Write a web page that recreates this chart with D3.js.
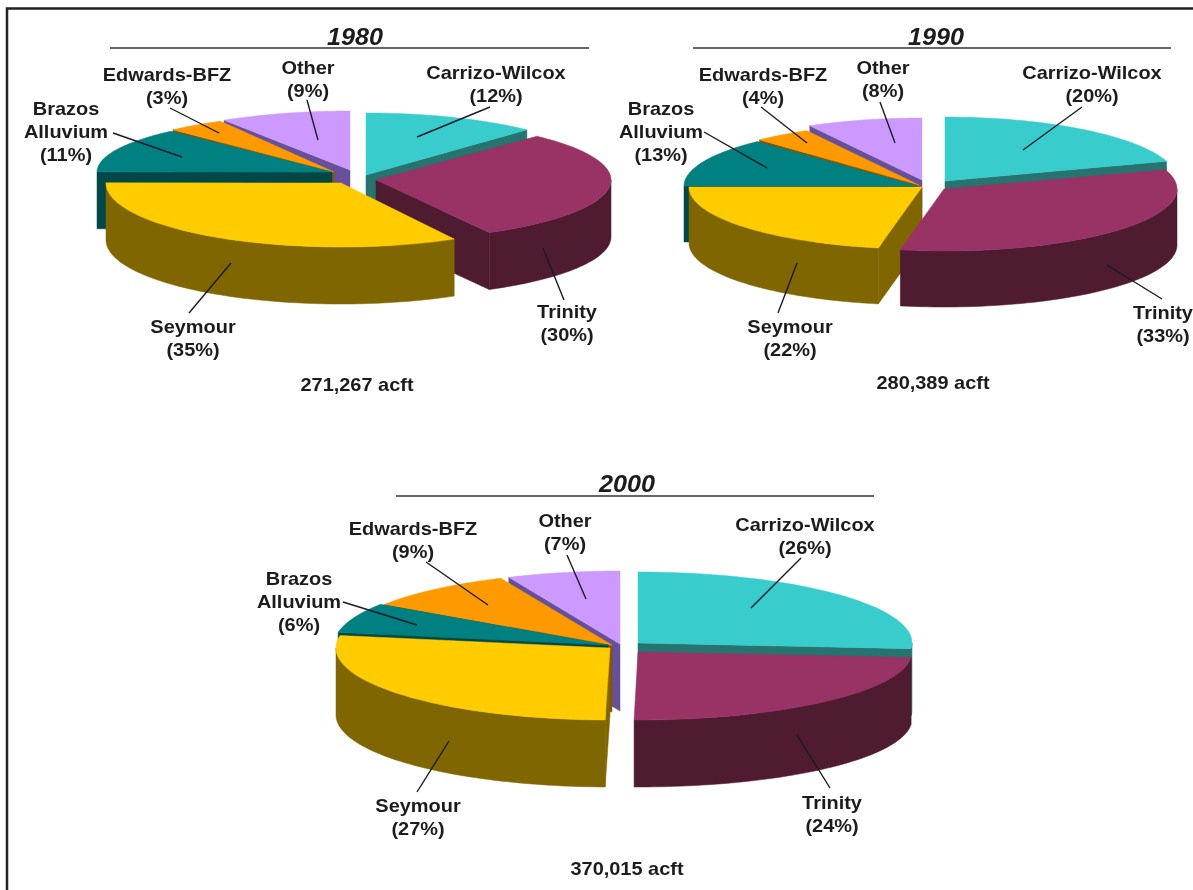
<!DOCTYPE html>
<html><head><meta charset="utf-8">
<script src="https://cdn.jsdelivr.net/npm/d3@7"></script>
<style>html,body{margin:0;padding:0;background:#fff;overflow:hidden}svg{display:block;filter:blur(0.4px)}
text{font-family:"Liberation Sans",Arial,sans-serif;font-weight:700;fill:#1c1c1c;font-size:19px}</style>
</head><body><svg id="c" width="1193" height="890"></svg>
<script>
const categories=["Carrizo-Wilcox","Trinity","Seymour","Brazos Alluvium","Edwards-BFZ","Other"];
const years=["1980","1990","2000"];
const values1980=[12,30,35,11,3,9];
const values1990=[20,33,22,13,4,8];
const values2000=[26,24,27,6,9,7];
const totals=["271,267 acft","280,389 acft","370,015 acft"];
const topColors=["#38CCCC","#993366","#FFCC00","#008080","#FF9900","#CC99FF"];
const sideColors=["#27736F","#4F1B30","#806600","#004848","#8A5200","#665099"];

// layout only: drawing centre of each slice, vertical radius, hand-drawn angle nudges in degrees
const layouts=[
 {values:values1980,rx:235,ry:[62,60,64,56,58,59],depth:57,
  apex:[[366,175],[376,180],[341,183],[332,172],[334,172],[350,170]],
  warp:[[0,0],[0,0],[0,-7],[-7,0],[0,3.5],[0,0]],
  order:[5,4,3,0,1,2],
  title:[355,37],rule:[110,589,48],total:[357,384],
  labels:[[496,72],[567,311],[193,326],[66,108],[167,74],[308,67]],
  leaders:[[490,107,417,137],[543,248,564,300],[231,263,189,313],[113,133,182,157],[170,108,219,133],[307,100,318,140]]},
 {values:values1990,rx:233,ry:[64,62,62,61,62,62],depth:56,
  apex:[[945,181],[944,189],[922,187],[917,186],[919,185],[922,180]],
  warp:[[0,0],[0,0],[0,0],[0,0],[0,0],[0,0]],
  order:[5,4,3,0,2,1],
  title:[936,37],rule:[693,1171,48],total:[933,382],
  labels:[[1092,72],[1163,312],[790,326],[661,108],[763,74],[883,67]],
  leaders:[[1082,107,1023,150],[1107,265,1162,299],[797,263,778,313],[704,132,767,168],[761,107,807,143],[880,102,895,143]]},
 {values:values2000,rx:274,ry:[71,68,72,73,73,73],depth:67,
  apex:[[638,643],[638,652],[610,648],[608,645],[612,645],[620,644]],
  warp:[[0,0],[0,-1],[-0.8,0],[0,2],[2,1.5],[1.5,0]],
  order:[5,4,3,0,2,1],
  title:[627,484],rule:[396,874,496],total:[627,868],
  labels:[[805,524],[832,802],[418,805],[299,578],[413,528],[565,520]],
  leaders:[[801,558,751,608],[797,735,830,788],[449,741,417,792],[343,602,417,625],[426,562,488,605],[567,555,586,599]]}
];
const textStretch=1.05;

const svg=d3.select("#c");
svg.append("path").attr("d","M7,890V8.5H1193").attr("fill","none").attr("stroke","#222").attr("stroke-width",2.5);

const pie=d3.pie().sort(null).startAngle(0).endAngle(2*Math.PI);
const line=d3.line();
const rad=d3.scaleLinear([0,180],[0,Math.PI]);
function label(g,x,y,s){
  return g.append("text").attr("transform",`translate(${x},${y}) scale(${textStretch},1)`).attr("dy",".35em").attr("text-anchor","middle").text(s);
}
layouts.forEach((L,li)=>{
  const g=svg.append("g");
  const arcs=pie(L.values);
  L.order.forEach(i=>{
    const a=L.apex[i],d=arcs[i],ry=L.ry[i];
    const X=d3.scaleLinear([-1,1],[a[0]-L.rx,a[0]+L.rx]);
    const Y=d3.scaleLinear([-1,1],[a[1]+ry,a[1]-ry]);
    const t0=d.startAngle+rad(L.warp[i][0]),t1=d.endAngle+rad(L.warp[i][1]);
    const pt=t=>[X(Math.sin(t)),Y(Math.cos(t))];
    const samples=(u,v)=>d3.range(0,61).map(k=>pt(u+(v-u)*k/60));
    const down=p=>[p[0],p[1]+L.depth];
    const sl=g.append("g").attr("class","slice").datum(d);
    const face=t=>{
      const p=pt(t);
      sl.append("path").attr("d",line([a,p,down(p),down(a)])+"Z").attr("fill",sideColors[i]).attr("stroke",sideColors[i]).attr("stroke-width",.5);
    };
    if(Math.sin(t0)<-1e-6) face(t0);
    if(Math.sin(t1)>1e-6) face(t1);
    const w0=Math.max(t0,Math.PI/2),w1=Math.min(t1,3*Math.PI/2);
    if(w1>w0){
      const rim=samples(w0,w1);
      sl.append("path").attr("d",line(rim.concat(rim.slice().reverse().map(down)))+"Z").attr("fill",sideColors[i]).attr("stroke",sideColors[i]).attr("stroke-width",.5);
    }
    sl.append("path").attr("d",line([a].concat(samples(t0,t1)))+"Z").attr("fill",topColors[i]).attr("stroke",topColors[i]).attr("stroke-width",.5);
  });
  g.selectAll("line.leader").data(L.leaders).join("line").attr("class","leader")
    .attr("x1",d=>d[0]).attr("y1",d=>d[1]).attr("x2",d=>d[2]).attr("y2",d=>d[3])
    .attr("stroke","#1a1a2a").attr("stroke-width",1.4);
  g.append("line").attr("x1",L.rule[0]).attr("x2",L.rule[1]).attr("y1",L.rule[2]).attr("y2",L.rule[2]).attr("stroke","#333").attr("stroke-width",1.6);
  label(g,L.title[0],L.title[1],years[li]).style("font-style","italic").style("font-size","24px");
  categories.forEach((c,i)=>{
    const parts=i===3?c.split(" "):[c];
    parts.concat(`(${L.values[i]}%)`).forEach((s,k)=>label(g,L.labels[i][0],L.labels[i][1]+k*23.3,s));
  });
  label(g,L.total[0],L.total[1],totals[li]);
});
</script></body></html>
